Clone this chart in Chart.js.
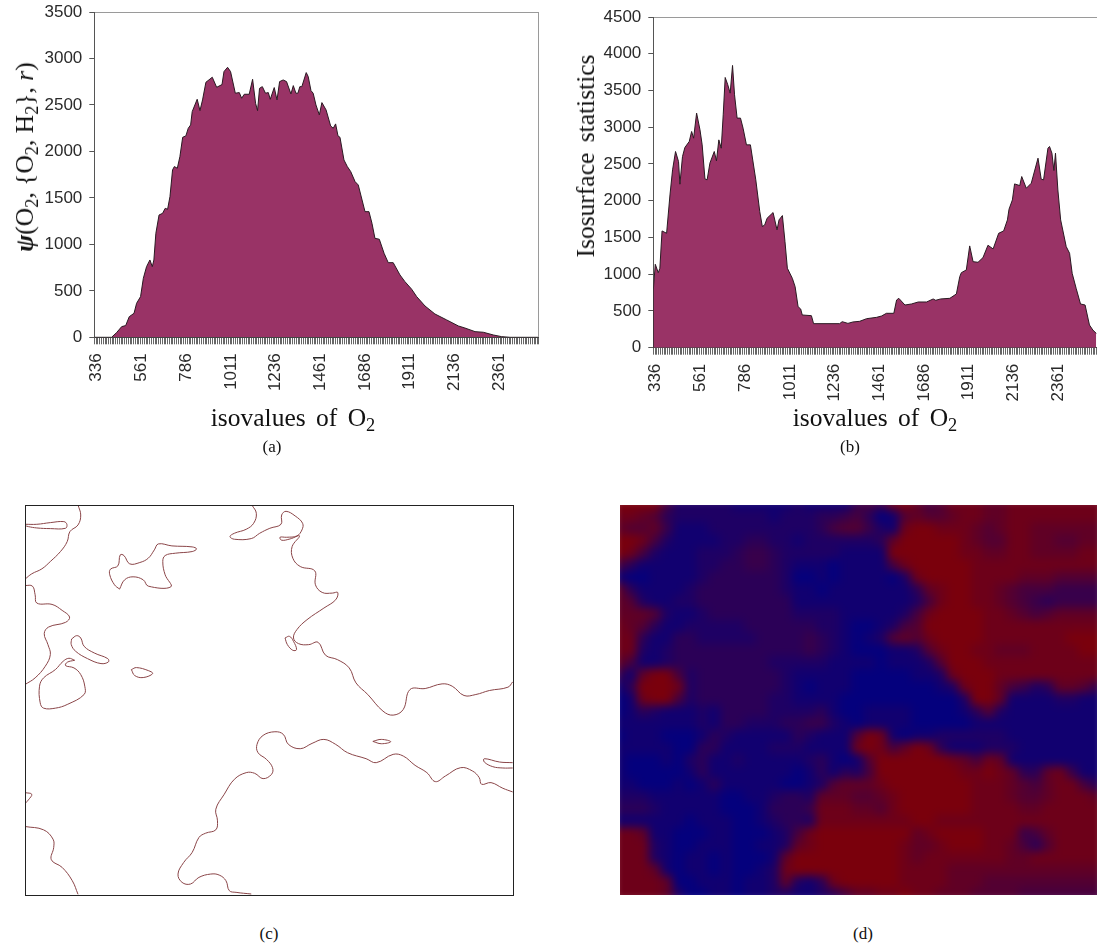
<!DOCTYPE html>
<html>
<head>
<meta charset="utf-8">
<title>Isosurface statistics</title>
<script src="https://cdn.jsdelivr.net/npm/chart.js@4"></script>
<style>
  html, body { margin: 0; padding: 0; background: #fff; overflow: hidden; }
  body { position: relative; width: 1097px; height: 950px; }
  canvas { position: absolute; }
  .label { position: absolute; font-family: "Liberation Serif", serif; color: #111; white-space: nowrap; transform: translate(-50%, -50%); }
  .axis-title { font-size: 25.5px; word-spacing: 4px; }
  .caption { font-size: 17px; }
  .rotated { transform: translate(-50%, -50%) rotate(-90deg); }
  sub { font-size: 72%; line-height: 0; vertical-align: -0.25em; }
</style>
</head>
<body>
<canvas id="chartA" width="545" height="420" style="left:0;top:0"></canvas>
<canvas id="chartB" width="547" height="420" style="left:550px;top:0"></canvas>
<canvas id="chartC" width="510" height="410" style="left:15px;top:495px"></canvas>
<canvas id="chartD" width="497" height="410" style="left:610px;top:495px"></canvas>

<div class="label axis-title rotated" style="left:25px;top:157px;word-spacing:0"><b><i>&psi;</i></b>(O<sub>2</sub>, {O<sub>2</sub>, H<sub>2</sub>}, <i>r</i>)</div>
<div class="label axis-title" style="left:293px;top:418px">isovalues of O<sub>2</sub></div>
<div class="label caption" style="left:272px;top:447px">(a)</div>

<div class="label axis-title rotated" style="left:586px;top:156px">Isosurface statistics</div>
<div class="label axis-title" style="left:875px;top:418px">isovalues of O<sub>2</sub></div>
<div class="label caption" style="left:850px;top:447px">(b)</div>

<div class="label caption" style="left:269px;top:934px">(c)</div>
<div class="label caption" style="left:863px;top:934px">(d)</div>

<script>
Chart.defaults.animation = false;
Chart.defaults.responsive = false;
Chart.defaults.font.family = '"Liberation Sans", Arial, sans-serif';

// DATA

// (a) psi(O2, {O2, H2}, r)
const isoA = [336,423,448,474,494,512,536,549,569,583,599,616,628,636,646,662,680,693,705,717,730,739,754,767,781,797,809,821,829,854,868,881,898,930,952,979,989,1007,1022,1046,1066,1078,1091,1116,1133,1148,1158,1168,1182,1198,1212,1222,1242,1256,1269,1287,1304,1326,1338,1351,1361,1371,1381,1403,1413,1427,1438,1452,1469,1482,1503,1526,1539,1551,1563,1573,1593,1610,1627,1649,1665,1699,1719,1734,1749,1771,1795,1816,1841,1875,1900,1934,1959,2001,2051,2110,2169,2202,2253,2295,2345,2387,2429,2570];
const psiA = [0,0,50,115,126,222,258,366,438,635,760,832,760,832,1119,1316,1334,1388,1377,1514,1801,1837,1819,1944,2152,2167,2249,2285,2428,2561,2439,2554,2744,2798,2690,2719,2859,2905,2859,2626,2633,2572,2615,2615,2776,2518,2439,2679,2697,2626,2633,2561,2687,2554,2751,2769,2751,2618,2708,2626,2626,2697,2697,2848,2805,2654,2626,2500,2393,2525,2446,2274,2249,2296,2167,2152,1908,1837,1783,1675,1639,1352,1352,1227,1065,1055,904,803,803,671,599,517,438,337,251,187,122,100,61,54,25,7,0,0];

// (b) isosurface statistics
const isoB = [336,336,346,361,369,380,403,420,433,448,463,470,483,495,517,529,539,554,571,582,596,607,621,643,654,666,678,688,698,711,723,735,745,758,775,788,805,825,852,872,885,897,909,939,959,969,986,999,1011,1036,1050,1065,1078,1086,1132,1143,1274,1287,1316,1341,1375,1410,1460,1485,1510,1547,1561,1572,1603,1636,1670,1712,1745,1758,1782,1829,1862,1879,1887,1912,1929,1946,1971,1996,2021,2047,2075,2100,2119,2127,2144,2155,2181,2191,2214,2239,2273,2289,2301,2323,2331,2343,2353,2361,2373,2387,2415,2432,2445,2465,2487,2510,2532,2549,2566];
const statB = [0,785,1135,1021,1080,1589,1557,2079,2420,2670,2533,2225,2601,2724,2806,2942,2851,3192,2965,2760,2297,2284,2511,2670,2542,2828,2715,3169,3677,3578,3464,3841,3441,3124,3124,2987,2760,2760,2284,1852,1648,1671,1762,1839,1603,1739,1798,1444,1081,944,831,558,527,445,436,327,327,354,331,350,359,395,413,431,468,468,649,672,581,595,622,622,663,645,663,672,731,967,1021,1058,1385,1171,1162,1226,1394,1344,1557,1589,1739,1884,2011,2229,2206,2329,2170,2238,2579,2293,2284,2715,2738,2647,2411,2647,2147,1739,1376,1285,1012,808,595,581,309,241,195];

const isoLabelStep = 225;
const isoTickStep = 9;
const isoFirst = 336;
const isoLast = 2570;
const yTicksA = [0,500,1000,1500,2000,2500,3000,3500];
const yTicksB = [0,500,1000,1500,2000,2500,3000,3500,4000,4500];

// (c) isocontours, field coordinates x 75-1520, y 45-1218
const contourRange = { xMin: 75, xMax: 1520, yMin: 45, yMax: 1218 };
const contour1 = [[75,103],[110,103],[150,98],[190,95],[199,103],[195,115],[150,116],[110,114],[85,110],[75,107]];
const contour2 = [[232,45],[240,75],[232,105],[208,125],[200,155],[180,185],[150,215],[125,237],[95,252],[75,268]];
const contour3 = [[355,298],[340,285],[326,255],[328,238],[350,228],[357,195],[368,197],[385,222],[415,218],[440,205],[458,180],[470,162],[510,168],[570,171],[583,177],[570,185],[520,190],[490,197],[483,215],[490,255],[507,291],[440,289],[425,270],[395,261],[370,270],[355,298]];
const contour4 = [[75,287],[97,289],[105,315],[110,340],[155,344],[185,362],[207,382],[195,398],[145,412],[132,432],[143,465],[150,495],[135,530],[105,565],[75,585]];
const contour5 = [[213,448],[228,438],[240,445],[250,470],[280,490],[320,507],[322,517],[300,522],[260,507],[225,485],[212,465],[213,448]];
const contour6 = [[390,540],[405,534],[440,543],[453,552],[425,564],[400,558],[390,540]];
const contour7 = [[222,512],[205,506],[188,515],[165,540],[130,565],[118,590],[120,640],[130,656],[165,656],[200,645],[250,615],[252,590],[240,555],[220,535],[195,528],[200,518],[222,512]];
const contour8 = [[747,45],[760,70],[752,100],[730,118],[695,130],[682,140],[695,148],[745,146],[770,130],[800,115],[833,103],[835,75],[848,64],[875,78],[897,100],[895,120],[880,138],[850,142],[830,142],[835,151],[860,147],[888,138],[866,170],[868,205],[890,230],[933,243],[935,285],[955,308],[985,310],[1001,308],[995,330],[960,355],[910,390],[880,420],[870,445],[885,462],[915,465],[943,458],[965,497],[1000,510],[1035,535],[1055,580],[1090,615],[1135,665],[1165,677],[1195,660],[1215,600],[1260,597],[1310,583],[1340,590],[1375,618],[1410,615],[1450,603],[1505,593],[1519,577]];
const contour9 = [[845,445],[858,440],[870,455],[879,480],[868,482],[852,465],[845,445]];
const contour10 = [[745,1215],[700,1210],[680,1205],[670,1175],[650,1158],[625,1155],[590,1165],[565,1185],[540,1180],[528,1155],[545,1120],[570,1090],[590,1045],[610,1032],[640,1022],[645,995],[640,960],[665,915],[695,870],[730,850],[755,852],[780,868],[805,855],[808,835],[790,810],[765,790],[762,765],[780,738],[815,727],[840,735],[855,765],[890,778],[925,762],[960,750],[995,765],[1030,790],[1085,808],[1115,820],[1165,795],[1195,800],[1230,828],[1265,850],[1290,877],[1320,860],[1365,835],[1400,845],[1420,865],[1427,885],[1455,880],[1490,897],[1519,908]];
const contour11 = [[1105,756],[1130,750],[1158,757],[1130,763],[1105,756]];
const contour12 = [[1519,820],[1480,818],[1435,808],[1435,818],[1460,832],[1490,836],[1519,836]];
const contour13 = [[75,910],[95,915],[85,932],[75,943]];
const contour14 = [[75,1012],[130,1022],[158,1050],[160,1075],[153,1112],[185,1135],[215,1175],[232,1216]];
const contours = [contour1,contour2,contour3,contour4,contour5,contour6,contour7,contour8,contour9,contour10,contour11,contour12,contour13,contour14];

// (d) field levels 0 (blue) - 9 (red), one string per row, one digit per column
const fieldRows = [
  '99995 22222 11111 21111 45489 75688 87788 888888',
  '88763 22222 22212 22334 53016 76678 87788 888888',
  '76674 11122 22222 22356 64218 99888 76788 777777',
  '99852 11112 23322 12222 22379 99998 76688 776677',
  '98521 11222 34432 22221 11199 99998 87788 777788',
  '53111 11223 34432 11101 11158 99999 88888 888888',
  '10011 11233 33332 00101 11102 89999 88887 776666',
  '73111 12333 33332 11011 11111 37899 88765 554444',
  '76211 22333 33333 11111 11111 25899 88765 434444',
  '77762 11233 33333 22221 11112 58999 98876 567777',
  '87631 12222 23333 33221 00125 69999 98888 888888',
  '88311 33222 22333 34321 01267 68999 98888 888999',
  '88212 33333 33333 34321 00011 26899 88777 888899',
  '75112 33333 33322 22211 11011 12699 98888 888888',
  '41799 52333 33332 11111 00000 11289 99888 888888',
  '13999 82333 33332 10111 00000 00128 99754 237764',
  '01899 52333 33322 11110 00000 00002 99711 112211',
  '01321 11213 33322 22310 01111 00001 36211 111111',
  '11111 11213 32223 34421 01111 00000 11111 111111',
  '01110 00132 11111 32111 69810 11222 22211 111111',
  '11111 00331 11122 21111 89857 98311 12221 111111',
  '10001 02311 21111 12310 16999 99987 58711 111111',
  '10000 01311 11111 01313 25999 99998 89873 378411',
  '11000 10131 11110 01267 77899 99999 88876 578853',
  '22211 11110 01123 32777 66789 99999 88876 678887',
  '33321 11110 00133 34888 77689 99999 88887 788888',
  '11111 10111 00123 32888 88888 99888 88888 888888',
  '88711 00011 00012 58999 99999 78999 98884 578888',
  '88821 00111 00112 78999 99998 77899 98875 368888',
  '88821 01101 00017 99999 99998 78888 88877 888888',
  '88871 01101 00128 99999 99998 88877 77777 777777',
  '88887 00111 01127 21389 99998 88877 76666 666666',
  '88887 20011 01122 11235 77889 88777 66665 555555'
].map(row => row.replace(/ /g, ''));

// HELPERS

function pairsToXY(xs, ys) {
  return xs.map((x, i) => ({ x: x, y: ys[i] }));
}

function buildIsoTicks() {
  const ticks = [];
  for (let v = isoFirst; v < isoLast; v += isoTickStep) {
    ticks.push({ value: v });
  }
  ticks.push({ value: isoLast });
  return ticks;
}

// area panels (a) and (b) share everything but data and axis box
function areaChart(id, xs, ys, yTicks, box) {
  return new Chart(document.getElementById(id), {
    type: 'line',
    data: {
      datasets: [{
        data: pairsToXY(xs, ys),
        fill: 'origin',
        backgroundColor: '#993366',
        borderColor: '#2a1a22',
        borderWidth: 1,
        pointRadius: 0,
        tension: 0
      }]
    },
    options: {
      layout: { padding: { top: box.top, right: box.right, left: 0, bottom: 0 } },
      plugins: { legend: { display: false }, tooltip: { enabled: false } },
      scales: {
        x: {
          type: 'linear',
          min: isoFirst,
          max: isoLast,
          afterBuildTicks: scale => { scale.ticks = buildIsoTicks(); },
          afterFit: scale => { scale.height = box.xHeight; scale.paddingLeft = 0; scale.paddingRight = 0; },
          grid: {
            color: c => (c.tick && c.tick.value === isoLast ? '#9a9a9a' : 'rgba(0,0,0,0)'),
            tickColor: '#666',
            tickLength: 7,
            lineWidth: 1
          },
          border: { color: '#444' },
          ticks: {
            autoSkip: false,
            minRotation: 90,
            maxRotation: 90,
            padding: box.labelPad,
            labelOffset: 2.5,
            color: '#2a2a2a',
            font: { size: 17 },
            callback: v => ((v - isoFirst) % isoLabelStep === 0 && v !== isoLast ? String(v) : '')
          }
        },
        y: {
          min: yTicks[0],
          max: yTicks[yTicks.length - 1],
          afterBuildTicks: scale => { scale.ticks = yTicks.map(v => ({ value: v })); },
          // keep the plot box where it is in the picture, labels may overhang it
          afterFit: scale => { scale.width = box.yWidth; scale.paddingTop = 0; scale.paddingBottom = 0; },
          grid: {
            color: c => (c.tick && c.tick.value === yTicks[yTicks.length - 1] ? '#9a9a9a' : 'rgba(0,0,0,0)'),
            tickColor: '#555',
            tickLength: 5
          },
          border: { color: '#555' },
          ticks: { padding: 7, color: '#2a2a2a', font: { size: 17 }, callback: v => String(v) }
        }
      }
    }
  });
}

// CHARTS

areaChart('chartA', isoA, psiA, yTicksA, { top: 12, right: 7, xHeight: 82.7, yWidth: 94.3, labelPad: 9 });
areaChart('chartB', isoB, statB, yTicksB, { top: 17, right: 0, xHeight: 72.3, yWidth: 103.3, labelPad: 9 });

// frame round the contour panel
const framePlugin = {
  id: 'frame',
  afterDraw(chart) {
    const a = chart.chartArea;
    const ctx = chart.ctx;
    ctx.save();
    ctx.strokeStyle = '#222';
    ctx.lineWidth = 1;
    ctx.strokeRect(a.left + 0.5, a.top + 0.5, a.right - a.left, a.bottom - a.top);
    ctx.restore();
  }
};

new Chart(document.getElementById('chartC'), {
  type: 'line',
  data: {
    datasets: contours.map(c => ({
      data: c.map(p => ({ x: p[0], y: p[1] })),
      borderColor: '#8a4548',
      borderWidth: 1,
      pointRadius: 0,
      tension: 0.4,
      fill: false
    }))
  },
  options: {
    layout: { padding: { left: 10, top: 10, right: 12, bottom: 10 } },
    plugins: { legend: { display: false }, tooltip: { enabled: false } },
    scales: {
      x: { type: 'linear', display: false, min: contourRange.xMin, max: contourRange.xMax },
      y: { type: 'linear', display: false, min: contourRange.yMin, max: contourRange.yMax, reverse: true }
    }
  },
  plugins: [framePlugin]
});

// level 0-9 to the blue / dark red ramp of the picture
function levelColor(level) {
  const t = level / 9;
  const r = Math.round(4 + t * 118);
  const b = Math.round(125 - t * 113);
  return 'rgb(' + r + ',0,' + b + ')';
}

const fieldPoints = [];
const fieldColors = [];
fieldRows.forEach((row, j) => {
  row.split('').forEach((digit, i) => {
    fieldPoints.push({ x: i, y: j });
    fieldColors.push(levelColor(Number(digit)));
  });
});

// soften the cells the way the rendered field looks, keep it inside the axes
const softenPlugin = {
  id: 'soften',
  afterDatasetsDraw(chart) {
    const a = chart.chartArea;
    const ctx = chart.ctx;
    const copy = document.createElement('canvas');
    copy.width = chart.width;
    copy.height = chart.height;
    copy.getContext('2d').drawImage(chart.canvas, 0, 0);
    ctx.save();
    ctx.clearRect(0, 0, chart.width, chart.height);
    ctx.beginPath();
    ctx.rect(a.left, a.top, a.right - a.left, a.bottom - a.top);
    ctx.clip();
    ctx.filter = 'blur(5px)';
    ctx.drawImage(copy, 0, 0);
    ctx.restore();
  }
};

new Chart(document.getElementById('chartD'), {
  type: 'scatter',
  data: {
    datasets: [{
      data: fieldPoints,
      backgroundColor: fieldColors,
      borderWidth: 0,
      pointStyle: 'rect',
      pointRadius: 10,
      clip: false
    }]
  },
  options: {
    layout: { padding: { left: 10, top: 10, right: 10, bottom: 10 } },
    plugins: { legend: { display: false }, tooltip: { enabled: false } },
    scales: {
      x: { type: 'linear', display: false, min: 0, max: fieldRows[0].length - 1 },
      y: { type: 'linear', display: false, min: 0, max: fieldRows.length - 1, reverse: true }
    }
  },
  plugins: [softenPlugin]
});
</script>
</body>
</html>
